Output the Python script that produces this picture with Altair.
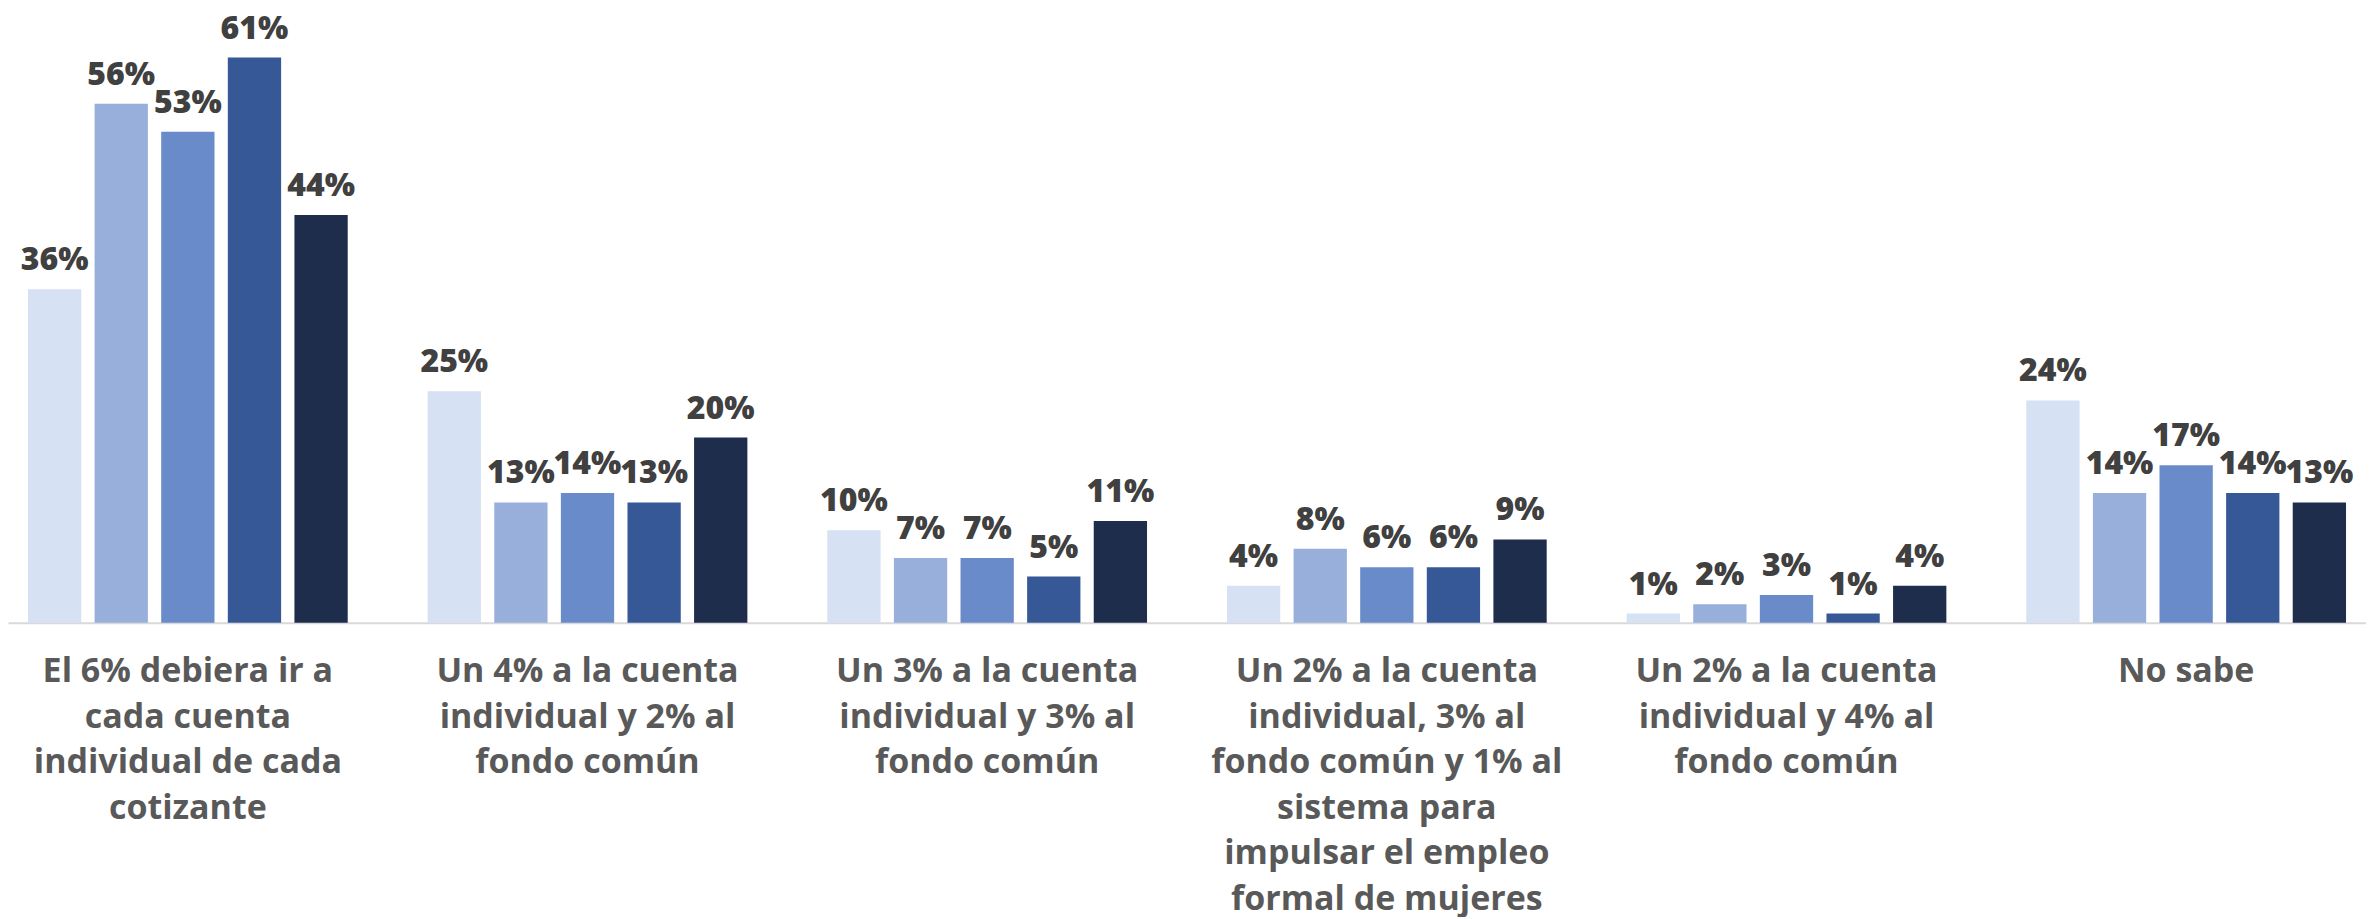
import altair as alt
import pandas as pd

categories = [
    "El 6% debiera ir a|cada cuenta|individual de cada|cotizante",
    "Un 4% a la cuenta|individual y 2% al|fondo común",
    "Un 3% a la cuenta|individual y 3% al|fondo común",
    "Un 2% a la cuenta|individual, 3% al|fondo común y 1% al|sistema para|impulsar el empleo|formal de mujeres",
    "Un 2% a la cuenta|individual y 4% al|fondo común",
    "No sabe",
]
series = ["Grupo 1", "Grupo 2", "Grupo 3", "Grupo 4", "Grupo 5"]
colors = ["#D6E1F3", "#97AFDA", "#6A8BC9", "#375896", "#1E2D4C"]

values = {
    "Grupo 1": [36, 25, 10, 4, 1, 24],
    "Grupo 2": [56, 13, 7, 8, 2, 14],
    "Grupo 3": [53, 14, 7, 6, 3, 17],
    "Grupo 4": [61, 13, 5, 6, 1, 14],
    "Grupo 5": [44, 20, 11, 9, 4, 13],
}

rows = []
for s in series:
    for c, v in zip(categories, values[s]):
        rows.append({"categoria": c, "serie": s, "valor": v, "etiqueta": f"{v}%"})
df = pd.DataFrame(rows)

x_enc = alt.X(
    "categoria:N",
    sort=categories,
    scale=alt.Scale(paddingInner=0.2, paddingOuter=0.05),
    axis=alt.Axis(
        title=None,
        labelAngle=0,
        ticks=False,
        labelExpr="split(datum.label, '|')",
        labelFont="Open Sans",
        labelFontWeight=700,
        labelFontSize=34,
        labelColor="#595959",
        labelLineHeight=45.5,
        labelPadding=32,
        labelLimit=0,
        domainColor="#D9D9D9",
        domainWidth=2,
    ),
)
xoff = alt.XOffset("serie:N", sort=series, scale=alt.Scale(paddingInner=0.2, paddingOuter=0))
y_enc = alt.Y("valor:Q", scale=alt.Scale(domain=[0, 66.3], nice=False, zero=True), axis=None)

base = alt.Chart(df).encode(x=x_enc, xOffset=xoff, y=y_enc)

bars = base.mark_bar().encode(
    color=alt.Color("serie:N", sort=series, scale=alt.Scale(domain=series, range=colors), legend=None)
)
labels = base.mark_text(
    baseline="alphabetic", dy=-19, font="Open Sans", fontWeight=800, fontSize=32, color="#404040"
).encode(text="etiqueta:N")

chart = (
    alt.layer(bars, labels)
    .properties(width=2360, height=615, padding=0)
    .configure_view(stroke=None)
    .configure_axis(grid=False)
)
chart.save("out.html", embed_options={"renderer": "svg", "actions": False})
